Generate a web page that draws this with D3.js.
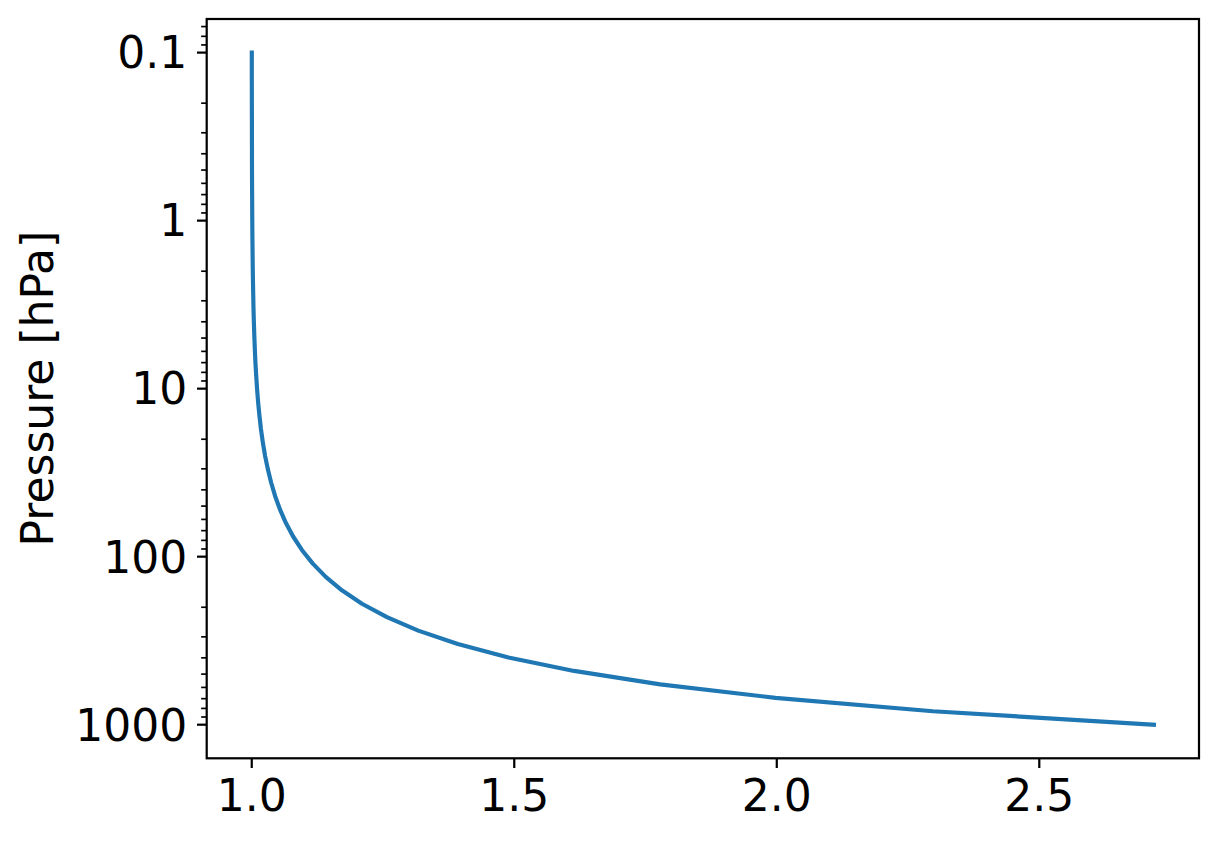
<!DOCTYPE html>
<html><head><meta charset="utf-8">
<script src="https://cdn.jsdelivr.net/npm/d3@7"></script>
<style>html,body{margin:0;padding:0;background:#fff;} text{font-family:"DejaVu Sans",sans-serif;}</style>
</head><body>
<svg id="chart" width="1218" height="841"></svg>
<script>
// Pressure levels [hPa] (log-spaced from 0.1 to 1000)
const pressure = [0.1,0.1202,0.1445,0.1738,0.2089,0.2512,0.3020,0.3631,0.4365,0.5248,
  0.6310,0.7586,0.9120,1.0965,1.3183,1.5849,1.9055,2.2909,2.7542,3.3113,
  3.9811,4.7863,5.7544,6.9183,8.3176,10,12.023,14.454,17.378,20.893,
  25.119,30.200,36.308,43.652,52.481,63.096,75.858,91.201,109.65,131.83,
  158.49,190.55,229.09,275.42,331.13,398.11,478.63,575.44,691.83,831.76,1000];
// x values
const xValues = [1.0001,1.0001,1.0001,1.0002,1.0002,1.0003,1.0003,1.0004,1.0004,1.0005,
  1.0006,1.0008,1.0009,1.0011,1.0013,1.0016,1.0019,1.0023,1.0028,1.0033,
  1.0040,1.0048,1.0058,1.0069,1.0084,1.0101,1.0121,1.0146,1.0175,1.0211,
  1.0254,1.0307,1.0370,1.0446,1.0539,1.0651,1.0788,1.0955,1.1159,1.1409,
  1.1717,1.2099,1.2575,1.3171,1.3925,1.4890,1.6139,1.7779,1.9974,2.2974,2.7183];
const xTicks = [1.0, 1.5, 2.0, 2.5];
const yTicks = [0.1, 1, 10, 100, 1000];
const yTickLabels = ["0.1", "1", "10", "100", "1000"];
const yLabel = "Pressure [hPa]";

const svg = d3.select("#chart");
const L = 206.7, R = 1199, T = 19, B = 758.3;
const fs = 44;

const xmin = d3.min(xValues), xmax = d3.max(xValues), xm = (xmax - xmin) * 0.05;
const x = d3.scaleLinear().domain([xmin - xm, xmax + xm]).range([L, R]);
const lmin = Math.log10(d3.min(pressure)), lmax = Math.log10(d3.max(pressure)), lm = (lmax - lmin) * 0.05;
const y = d3.scaleLog().domain([Math.pow(10, lmin - lm), Math.pow(10, lmax + lm)]).range([T, B]);

const data = pressure.map((p, i) => ({p, x: xValues[i]}));

const gp = svg.append("g");
gp.append("defs").append("clipPath").attr("id", "clip")
  .append("rect").attr("x", L).attr("y", T).attr("width", R - L).attr("height", B - T);
gp.append("path").datum(data)
  .attr("clip-path", "url(#clip)")
  .attr("fill", "none").attr("stroke", "#1f77b4").attr("stroke-width", 4.17)
  .attr("stroke-linecap", "square").attr("stroke-linejoin", "round")
  .attr("d", d3.line().x(d => x(d.x)).y(d => y(d.p)));

// Minor ticks on log axis
const [d0, d1] = y.domain();
const minor = [];
for (let e = -2; e <= 4; e++) for (let m = 2; m <= 9; m++) {
  const v = m * Math.pow(10, e);
  if (v >= d0 && v <= d1) minor.push(v);
}
svg.append("g").selectAll("line").data(minor).join("line")
  .attr("x1", L).attr("x2", L - 5.56).attr("y1", d => y(d)).attr("y2", d => y(d))
  .attr("stroke", "#000").attr("stroke-width", 1.67);

// Major y ticks
const gy = svg.append("g");
gy.selectAll("line").data(yTicks).join("line")
  .attr("x1", L).attr("x2", L - 9.72).attr("y1", d => y(d)).attr("y2", d => y(d))
  .attr("stroke", "#000").attr("stroke-width", 2.22);
gy.selectAll("text").data(yTicks).join("text")
  .attr("x", L - 9.72 - 9.72).attr("y", d => y(d)).attr("dy", "0.36em")
  .attr("text-anchor", "end").attr("font-size", fs).attr("fill", "#000")
  .text((d, i) => yTickLabels[i]);

// X ticks
const gx = svg.append("g");
gx.selectAll("line").data(xTicks).join("line")
  .attr("x1", d => x(d)).attr("x2", d => x(d)).attr("y1", B).attr("y2", B + 9.72)
  .attr("stroke", "#000").attr("stroke-width", 2.22);
gx.selectAll("text").data(xTicks).join("text")
  .attr("x", d => x(d)).attr("y", B + 9.72 + 9.72).attr("dy", "0.76em")
  .attr("text-anchor", "middle").attr("font-size", fs).attr("fill", "#000")
  .text(d => d3.format(".1f")(d));

// Spines
svg.append("rect").attr("x", L).attr("y", T).attr("width", R - L).attr("height", B - T)
  .attr("fill", "none").attr("stroke", "#000").attr("stroke-width", 2.22);

// Y label
svg.append("text").attr("transform", `translate(53,${(T + B) / 2}) rotate(-90)`)
  .attr("text-anchor", "middle").attr("font-size", fs).attr("fill", "#000").text(yLabel);
</script>
</body></html>
